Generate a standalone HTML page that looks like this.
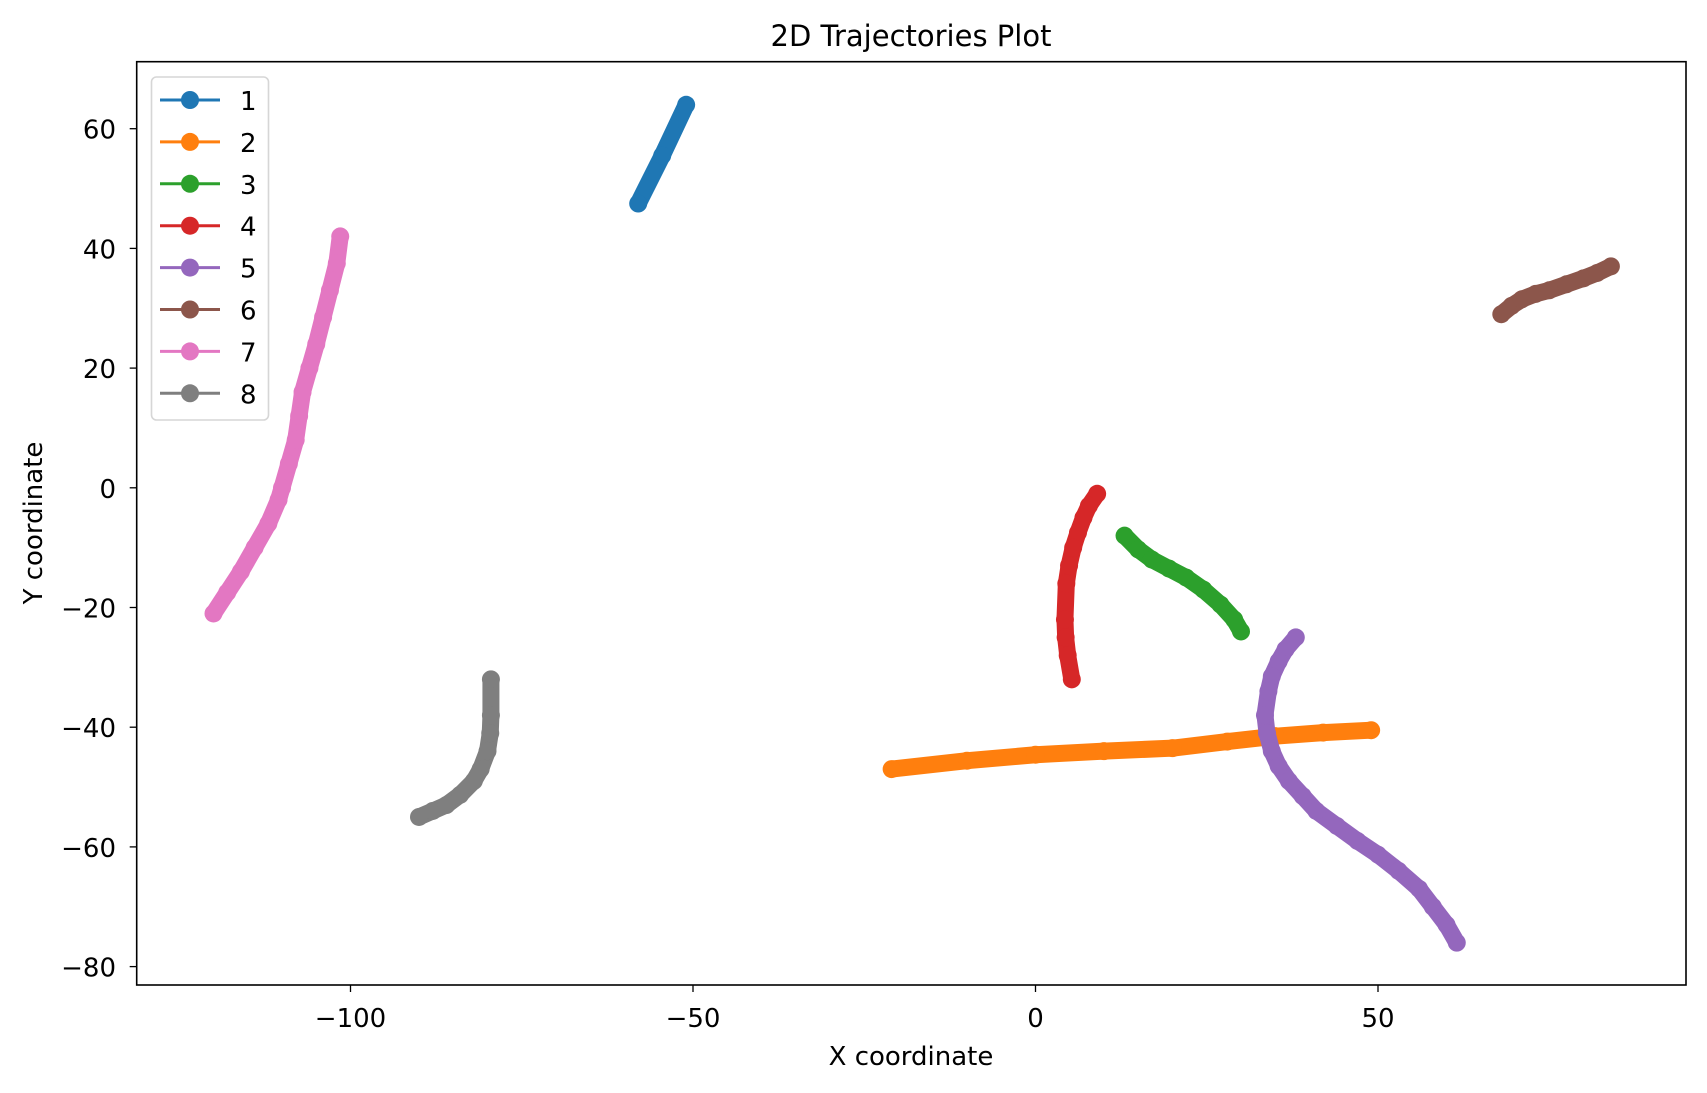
<!DOCTYPE html>
<html><head><meta charset="utf-8"><style>
body{margin:0;background:#fff;}
svg{display:block;font-family:"DejaVu Sans","Liberation Sans",sans-serif;}
</style></head><body>
<svg id="chart" width="1707" height="1093" xmlns="http://www.w3.org/2000/svg">
<rect x="0" y="0" width="1707" height="1093" fill="#fff"/>
<text x="911" y="46" font-size="29" text-anchor="middle">2D Trajectories Plot</text>
<g id="plot"></g>
<rect x="136.7" y="61.7" width="1549.3" height="923.3" fill="none" stroke="#000" stroke-width="1.6"/>
<g id="xticks"></g><g id="yticks"></g>
<text x="911" y="1065" font-size="26" text-anchor="middle">X coordinate</text>
<text transform="translate(42,523) rotate(-90)" font-size="26" text-anchor="middle">Y coordinate</text>
<g id="legend"></g>
</svg>
<script>
const seriesNames=["1","2","3","4","5","6","7","8"];
const colors=["#1f77b4","#ff7f0e","#2ca02c","#d62728","#9467bd","#8c564b","#e377c2","#7f7f7f"];
const t1x=[-58,-54.5,-51];const t1y=[47.5,55.5,64];
const t2x=[-21,-10,0,10,20,28,35,42,49];const t2y=[-47,-45.6,-44.6,-44,-43.5,-42.4,-41.5,-40.9,-40.5];
const t3x=[13,15,17,19.5,22,24.5,27,29,30];const t3y=[-8,-10.3,-12,-13.5,-15,-17,-19.5,-22,-24];
const t4x=[9,7.8,7,6.2,5.5,4.9,4.5,4.3,4.4,4.7,5.3];const t4y=[-1,-3,-5,-7.5,-10,-13,-16,-22,-25,-28,-32];
const t5x=[38,36.5,35.5,34.5,34,33.5,33.8,34.5,35.5,37,39,41,44,47,50,53,56,58,60,61.5];
const t5y=[-25,-27,-29,-31.5,-34,-38,-41,-44,-46.5,-49,-51.5,-54,-56.5,-59,-61.3,-64,-67,-70,-73,-76];
const t6x=[68,69.5,71,73,75,77.5,80,82,84];const t6y=[29,30.4,31.5,32.4,33,34,35,35.9,37];
const t7x=[-120,-118,-116,-114,-112,-110.5,-110,-109,-108,-107.5,-107,-106,-105,-104,-103,-102,-101.5];
const t7y=[-21,-17.5,-14,-10,-6,-2,0,4,8,12,16,20,24,28.5,33,37.5,42];
const t8x=[-90,-88,-86,-84,-82,-81,-80,-79.6,-79.5,-79.5];const t8y=[-55,-54,-53,-51.3,-49,-47,-44,-41,-38,-32];
const xs=[t1x,t2x,t3x,t4x,t5x,t6x,t7x,t8x];const ys=[t1y,t2y,t3y,t4y,t5y,t6y,t7y,t8y];
const xTicks=[-100,-50,0,50];const xTickLabels=["−100","−50","0","50"];
const yTicks=[-80,-60,-40,-20,0,20,40,60];const yTickLabels=["−80","−60","−40","−20","0","20","40","60"];
const NS="http://www.w3.org/2000/svg";
function sx(v){return 1035.5+v*6.85;}
function sy(v){return 487.8-v*5.985;}
function mk(tag,at,parent){const e=document.createElementNS(NS,tag);for(const k in at)e.setAttribute(k,at[k]);parent.appendChild(e);return e;}
const plot=document.getElementById('plot');
xs.forEach((arr,i)=>{
  const g=mk('g',{},plot);
  
  
  const pts=arr.map((x,j)=>sx(x)+','+sy(ys[i][j])).join(' ');
  const pl=mk('polyline',{points:pts,fill:'none',stroke:colors[i],'stroke-width':17,'stroke-linecap':'round','stroke-linejoin':'round'},g);
  
  
  arr.forEach((x,j)=>{
    const c=mk('circle',{cx:sx(x),cy:sy(ys[i][j]),r:9,fill:colors[i]},g);
    
    
  });
});
const xg=document.getElementById('xticks');
xTicks.forEach((v,i)=>{
  mk('line',{x1:sx(v),x2:sx(v),y1:985,y2:992,stroke:'#000','stroke-width':1.3},xg);
  const t=mk('text',{x:sx(v),y:1027,'font-size':26,'text-anchor':'middle'},xg);
  t.textContent=xTickLabels[i];
  
  
});
const yg=document.getElementById('yticks');
yTicks.forEach((v,i)=>{
  mk('line',{x1:129.7,x2:136.7,y1:sy(v),y2:sy(v),stroke:'#000','stroke-width':1.3},yg);
  const t=mk('text',{x:116,y:sy(v)+10,'font-size':26,'text-anchor':'end'},yg);
  t.textContent=yTickLabels[i];
  
  
});
const lg=document.getElementById('legend');
const box=mk('rect',{x:151.5,y:77,width:117,height:343,rx:5,fill:'#fff','fill-opacity':0.8,stroke:'#d6d6d6','stroke-width':1.6},lg);


seriesNames.forEach((n,i)=>{
  const y=100+i*41.9;
  const g=mk('g',{},lg);
  
  
  mk('line',{x1:160,x2:220,y1:y,y2:y,stroke:colors[i],'stroke-width':3},g);
  mk('circle',{cx:190,cy:y,r:9,fill:colors[i]},g);
  const t=mk('text',{x:240,y:y+10,'font-size':26},g);
  t.textContent=n;
});
</script>
</body></html>
